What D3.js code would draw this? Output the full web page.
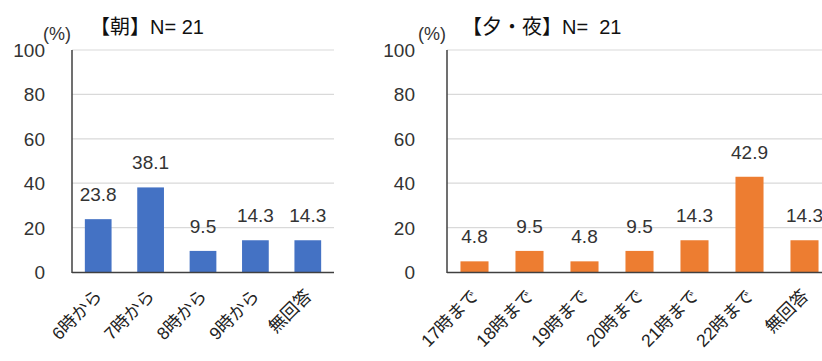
<!DOCTYPE html>
<html><head><meta charset="utf-8">
<script src="https://cdn.jsdelivr.net/npm/d3@7"></script>
<style>body{margin:0;background:#fff}svg{display:block}text{font-family:"Liberation Sans","Noto Sans CJK JP",sans-serif;white-space:pre}</style>
</head><body><svg id="c" width="822" height="361"></svg>
<script>
const yTicks = [0, 20, 40, 60, 80, 100];
const morningTitle = "【朝】N= 21";
const morningCats = ["6時から", "7時から", "8時から", "9時から", "無回答"];
const morningVals = [23.8, 38.1, 9.5, 14.3, 14.3];
const eveningTitle = "【夕・夜】N=  21";
const eveningCats = ["17時まで", "18時まで", "19時まで", "20時まで", "21時まで", "22時まで", "無回答"];
const eveningVals = [4.8, 9.5, 4.8, 9.5, 14.3, 42.9, 14.3];

const svg = d3.select("#c");
svg.append("rect").attr("width", 822).attr("height", 361).attr("fill", "#fff");

function drawChart(o) {
  const g = svg.append("g");
  const y = d3.scaleLinear().domain([0, 100]).range([272, 50]);
  const x = d3.scaleBand().domain(o.cats).range([o.x0, o.x1]).paddingInner(0.49).paddingOuter(0.245);
  g.selectAll(".grid").data(yTicks.filter(d => d > 0)).enter().append("line")
    .attr("x1", o.x0).attr("x2", o.gridEnd).attr("y1", d => y(d)).attr("y2", d => y(d))
    .attr("stroke", "#d9d9d9").attr("stroke-width", 1.2);
  g.selectAll(".yl").data(yTicks).enter().append("text")
    .attr("x", o.x0 - o.tickGap).attr("y", d => y(d) + 7).attr("text-anchor", "end")
    .attr("font-size", 19).attr("fill", "#333").text(d => d);
  g.selectAll(".bar").data(o.vals).enter().append("rect")
    .attr("x", (d, i) => x(o.cats[i])).attr("width", x.bandwidth())
    .attr("y", d => y(d)).attr("height", d => y(0) - y(d)).attr("fill", o.color);
  g.selectAll(".vl").data(o.vals).enter().append("text")
    .attr("x", (d, i) => x(o.cats[i]) + x.bandwidth() / 2).attr("y", d => y(d) - 18)
    .attr("text-anchor", "middle").attr("font-size", 19).attr("fill", "#333").text(d => d.toFixed(1));
  g.append("line").attr("x1", o.x0).attr("x2", o.x0).attr("y1", 50).attr("y2", 273)
    .attr("stroke", "#404040").attr("stroke-width", 1.5);
  g.append("line").attr("x1", o.x0).attr("x2", o.gridEnd).attr("y1", 272.5).attr("y2", 272.5)
    .attr("stroke", "#404040").attr("stroke-width", 1.5);
  g.selectAll(".xl").data(o.cats).enter().append("text")
    .attr("transform", d => `translate(${x(d) + x.bandwidth() / 2 + 5},${297}) rotate(-45)`)
    .attr("text-anchor", "end").attr("font-size", 17.5).attr("fill", "#222").text(d => d);
  g.append("text").attr("x", o.x0 - 29).attr("y", 40).attr("font-size", 18).attr("fill", "#333").text("(%)");
  g.append("text").attr("x", o.titleX).attr("y", 34).attr("font-size", 20).attr("fill", "#111").text(o.title);
}

drawChart({x0: 72, x1: 334, gridEnd: 334, tickGap: 27, cats: morningCats, vals: morningVals, color: "#4472C4", title: morningTitle, titleX: 90});
drawChart({x0: 447, x1: 832, gridEnd: 822, tickGap: 32, cats: eveningCats, vals: eveningVals, color: "#ED7D31", title: eveningTitle, titleX: 462});
</script></body></html>
